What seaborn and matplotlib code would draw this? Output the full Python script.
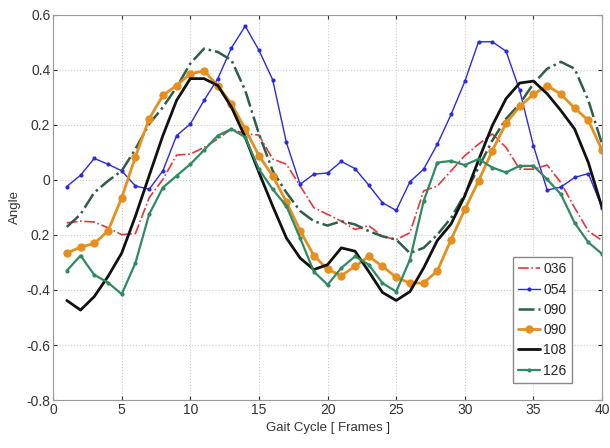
import matplotlib
matplotlib.use('Agg')
import matplotlib.pyplot as plt
import seaborn as sns
import numpy as np

# Data
frames = list(range(1, 41))

s036 = [-0.156, -0.150, -0.153, -0.174, -0.199, -0.195, -0.065, 0.002, 0.090, 0.094,
        0.118, 0.149, 0.185, 0.167, 0.163, 0.076, 0.057, -0.022, -0.101, -0.125,
        -0.150, -0.180, -0.166, -0.205, -0.217, -0.192, -0.040, -0.022, 0.033, 0.088,
        0.130, 0.167, 0.118, 0.039, 0.039, 0.054, -0.010, -0.101, -0.186, -0.220]

s054 = [-0.024, 0.017, 0.078, 0.057, 0.033, -0.022, -0.034, 0.033, 0.161, 0.203,
        0.289, 0.368, 0.480, 0.559, 0.471, 0.364, 0.136, -0.016, 0.021, 0.025,
        0.067, 0.041, -0.019, -0.083, -0.111, -0.007, 0.039, 0.130, 0.238, 0.358,
        0.502, 0.502, 0.468, 0.325, 0.124, -0.037, -0.026, 0.009, 0.023, -0.101]

s090a = [-0.171, -0.125, -0.046, -0.004, 0.033, 0.112, 0.203, 0.264, 0.337, 0.423,
         0.477, 0.465, 0.435, 0.325, 0.167, 0.033, -0.046, -0.113, -0.150, -0.166,
         -0.150, -0.162, -0.186, -0.205, -0.217, -0.266, -0.247, -0.199, -0.138, -0.052,
         0.045, 0.143, 0.222, 0.276, 0.350, 0.404, 0.429, 0.404, 0.289, 0.130]

s090b = [-0.266, -0.244, -0.231, -0.186, -0.065, 0.084, 0.222, 0.307, 0.343, 0.386,
         0.396, 0.343, 0.276, 0.185, 0.088, 0.015, -0.080, -0.184, -0.275, -0.325,
         -0.348, -0.314, -0.278, -0.314, -0.354, -0.375, -0.375, -0.330, -0.217, -0.107,
         -0.004, 0.106, 0.206, 0.267, 0.311, 0.343, 0.311, 0.261, 0.216, 0.108]

s108 = [-0.438, -0.473, -0.424, -0.351, -0.266, -0.132, 0.015, 0.161, 0.289, 0.368,
        0.368, 0.343, 0.264, 0.155, 0.027, -0.095, -0.211, -0.284, -0.326, -0.308,
        -0.247, -0.259, -0.333, -0.409, -0.438, -0.406, -0.320, -0.220, -0.160, -0.058,
        0.072, 0.197, 0.295, 0.352, 0.359, 0.313, 0.252, 0.185, 0.063, -0.101]

s126 = [-0.330, -0.275, -0.345, -0.373, -0.415, -0.302, -0.125, -0.028, 0.015, 0.057,
        0.108, 0.161, 0.185, 0.155, 0.039, -0.034, -0.095, -0.211, -0.333, -0.381,
        -0.320, -0.278, -0.308, -0.375, -0.406, -0.290, -0.077, 0.063, 0.069, 0.054,
        0.076, 0.045, 0.027, 0.051, 0.051, 0.002, -0.052, -0.156, -0.227, -0.269]

labels = ['036', '054', '090', '090', '108', '126']
yticks = [0.6, 0.4, 0.2, 0, -0.2, -0.4, -0.6, -0.8]
ytick_labels = ['0.6', '0.4', '0.2', '0', '0.2', '-0.4', '-0.6', '-0.8']
xticks = [0, 5, 10, 15, 20, 25, 30, 35, 40]

sns.set_style('whitegrid')
plt.rcParams['font.family'] = ['Liberation Sans', 'DejaVu Sans']

fig = plt.figure(figsize=(6.1, 4.48), dpi=100)
ax = fig.add_axes([0.087, 0.107, 0.9, 0.86])

styles = [
    dict(y=s036, color='#e8353a', linestyle='-.', linewidth=1.2, marker=None),
    dict(y=s054, color='#2a2ae0', linestyle='-', linewidth=1.0, marker='o', markersize=3),
    dict(y=s090a, color='#2f5d4c', linestyle='-.', linewidth=1.8, marker=None),
    dict(y=s090b, color='#e5901e', linestyle='-', linewidth=2.0, marker='o', markersize=6),
    dict(y=s108, color='#111111', linestyle='-', linewidth=2.0, marker=None),
    dict(y=s126, color='#2e8a62', linestyle='-', linewidth=1.6, marker='o', markersize=3),
]

for lab, st in zip(labels, styles):
    st = dict(st)
    y = st.pop('y')
    sns.lineplot(x=frames, y=y, ax=ax, label=lab, markeredgewidth=0, **st)

ax.set_xlim(0, 40)
ax.set_ylim(-0.8, 0.6)
ax.set_xticks(xticks)
ax.set_yticks(yticks)
ax.set_yticklabels(ytick_labels)
ax.tick_params(labelsize=10, colors='#333333', direction='in', length=3, pad=2,
               top=True, right=True, bottom=True, left=True)
ax.grid(True, linestyle=':', color='#cccccc', linewidth=0.8)
for sp in ax.spines.values():
    sp.set_color('#999999')
    sp.set_linewidth(0.8)

ax.set_xlabel('Gait Cycle [ Frames ]', fontsize=9.5, color='#333333')
ax.set_ylabel('Angle', fontsize=9.5, color='#333333')

leg = ax.legend(loc='lower right', bbox_to_anchor=(0.945, 0.044), fontsize=10,
                handlelength=1.6, handletextpad=0.2, borderpad=0.4,
                labelspacing=0.45, borderaxespad=0, fancybox=False, framealpha=1)
leg.get_frame().set_edgecolor('#888888')

fig.savefig('out.png', dpi=100)
